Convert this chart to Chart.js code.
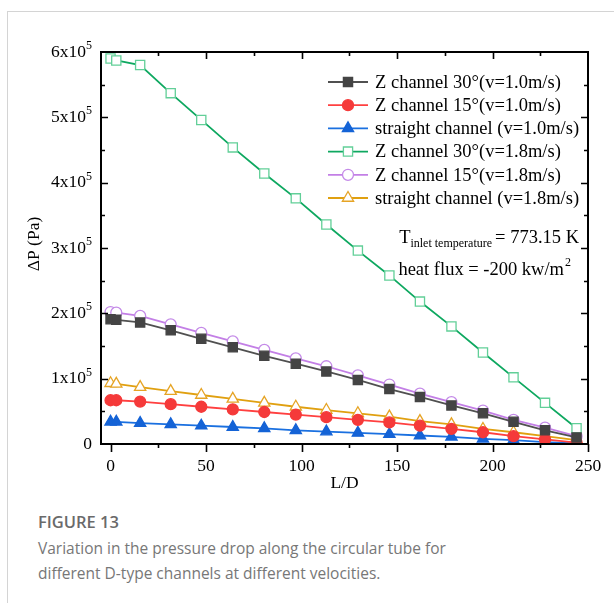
<!DOCTYPE html>
<html>
<head>
<meta charset="utf-8">
<script src="https://cdn.jsdelivr.net/npm/chart.js@4/dist/chart.umd.min.js"></script>
<style>
  html, body { margin: 0; padding: 0; background: #fff; }
  #wrap { position: relative; width: 614px; height: 603px; overflow: hidden; }
  #frame { position: absolute; left: 7px; top: 11px; right: -2px; bottom: -2px; border-left: 1px solid #d4d4d4; border-top: 1px solid #d4d4d4; }
  #chart { position: absolute; left: 0; top: 0; }
  .cap { position: absolute; left: 38px; font-family: "Open Sans", "Noto Sans", sans-serif; color: #777; }
  #figno { top: 510px; font-size: 16.5px; font-weight: 600; color: #6a6a6a; }
  #figtxt { top: 536px; font-size: 15.5px; line-height: 25px; }
</style>
</head>
<body>
<div id="wrap">
  <div id="frame"></div>
  <canvas id="chart" width="614" height="500"></canvas>
  <div class="cap" id="figno">FIGURE 13</div>
  <div class="cap" id="figtxt">Variation in the pressure drop along the circular tube for<br>different D-type channels at different velocities.</div>
</div>
<script>
// L/D positions of the sampled points
const ld = [0, 3, 15.5, 31.5, 47.5, 64, 80.5, 97, 113, 129.5, 146, 162, 178.5, 195, 211, 227.5, 244];

// pressure drop, in units of 1e5 Pa
const z30_v10 = [1.91, 1.90, 1.86, 1.74, 1.61, 1.48, 1.35, 1.23, 1.11, 0.98, 0.84, 0.72, 0.59, 0.47, 0.34, 0.21, 0.10];
const z15_v10 = [0.67, 0.67, 0.65, 0.61, 0.57, 0.53, 0.49, 0.45, 0.41, 0.37, 0.33, 0.28, 0.23, 0.18, 0.12, 0.07, 0.02];
const str_v10 = [0.34, 0.34, 0.32, 0.30, 0.28, 0.26, 0.24, 0.21, 0.19, 0.17, 0.15, 0.13, 0.11, 0.08, 0.06, 0.03, 0.01];
const z30_v18 = [5.90, 5.87, 5.80, 5.37, 4.96, 4.54, 4.14, 3.76, 3.36, 2.96, 2.58, 2.18, 1.80, 1.40, 1.02, 0.63, 0.24];
const z15_v18 = [2.02, 2.01, 1.96, 1.83, 1.70, 1.57, 1.44, 1.31, 1.19, 1.05, 0.91, 0.77, 0.64, 0.51, 0.37, 0.25, 0.12];
const str_v18 = [0.93, 0.92, 0.87, 0.81, 0.75, 0.69, 0.63, 0.57, 0.52, 0.47, 0.42, 0.35, 0.30, 0.23, 0.18, 0.12, 0.06];

const seriesNames = [
  'Z channel 30°(v=1.0m/s)',
  'Z channel 15°(v=1.0m/s)',
  'straight channel (v=1.0m/s)',
  'Z channel 30°(v=1.8m/s)',
  'Z channel 15°(v=1.8m/s)',
  'straight channel (v=1.8m/s)'
];

const xTicks = [0, 50, 100, 150, 200, 250];
const yTicks = [0, 1, 2, 3, 4, 5, 6];

const serif = '"Liberation Serif", "Times New Roman", serif';

function pts(vals) {
  return vals.map((v, i) => ({ x: ld[i], y: v * 1e5 }));
}

// line colour, marker fill, marker border, marker style, radius
const styles = [
  { line: '#505050', fill: '#444444', border: '#444444', shape: 'rect', r: 6.5 },
  { line: '#ff4040', fill: '#f53a3a', border: '#f53a3a', shape: 'circle', r: 5.5 },
  { line: '#1a70e0', fill: '#1463d6', border: '#1463d6', shape: 'triangle', r: 6.5 },
  { line: '#0ea860', fill: '#ffffff', border: '#62cf98', shape: 'rect', r: 6.5 },
  { line: '#c37fe6', fill: '#ffffff', border: '#c48ae8', shape: 'circle', r: 5.5 },
  { line: '#e0a010', fill: '#ffffff', border: '#e6a425', shape: 'triangle', r: 6.5 }
];
const allVals = [z30_v10, z15_v10, str_v10, z30_v18, z15_v18, str_v18];

const datasets = allVals.map((vals, i) => ({
  label: seriesNames[i],
  data: pts(vals),
  showLine: true,
  borderColor: styles[i].line,
  borderWidth: 1.8,
  pointStyle: styles[i].shape,
  pointRadius: styles[i].r,
  pointBackgroundColor: styles[i].fill,
  pointBorderColor: styles[i].border,
  pointBorderWidth: 1.3,
  tension: 0
}));

const axesPlugin = {
  id: 'axesPlugin',
  afterDraw(chart) {
    const ctx = chart.ctx;
    const a = chart.chartArea;
    const xs = chart.scales.x, ys = chart.scales.y;
    ctx.save();
    ctx.strokeStyle = '#000';
    ctx.lineWidth = 2;
    ctx.strokeRect(a.left, a.top, a.right - a.left, a.bottom - a.top);

    ctx.lineWidth = 1.6;
    ctx.beginPath();
    // x ticks: bottom outward, top inward
    for (let v = 0; v <= 250; v += 25) {
      const px = Math.round(xs.getPixelForValue(v)) + 0.5;
      const major = v % 50 === 0;
      ctx.moveTo(px, a.bottom);
      ctx.lineTo(px, a.bottom + (major ? 8 : 4));
      if (v > 0 && v < 250) {
        ctx.moveTo(px, a.top);
        ctx.lineTo(px, a.top + (major ? 7 : 4));
      }
    }
    // y ticks: inward on both sides
    for (let v = 0; v <= 6; v += 0.5) {
      const py = Math.round(ys.getPixelForValue(v * 1e5)) + 0.5;
      const major = Number.isInteger(v);
      if (v > 0 && v < 6) {
        ctx.moveTo(a.left, py);
        ctx.lineTo(a.left + (major ? 7 : 4), py);
        ctx.moveTo(a.right, py);
        ctx.lineTo(a.right - (major ? 7 : 4), py);
      }
    }
    ctx.stroke();

    ctx.fillStyle = '#000';
    ctx.font = '17.5px ' + serif;
    ctx.textAlign = 'center';
    ctx.textBaseline = 'middle';
    xTicks.forEach(v => {
      ctx.fillText(String(v), xs.getPixelForValue(v), a.bottom + 22);
    });
    ctx.fillText('L/D', (a.left + a.right) / 2, a.bottom + 39);

    // y tick labels with superscript exponents
    ctx.textAlign = 'right';
    yTicks.forEach(v => {
      const py = ys.getPixelForValue(v * 1e5);
      const rx = a.left - 9;
      if (v === 0) {
        ctx.font = '17.5px ' + serif;
        ctx.fillText('0', rx, py);
      } else {
        ctx.font = '12px ' + serif;
        const ew = ctx.measureText('5').width;
        ctx.fillText('5', rx, py - 6);
        ctx.font = '17.5px ' + serif;
        ctx.fillText(v + 'x10', rx - ew, py);
      }
    });

    ctx.save();
    ctx.translate(34, (a.top + a.bottom) / 2 - 4);
    ctx.rotate(-Math.PI / 2);
    ctx.textAlign = 'center';
    ctx.font = '17.5px ' + serif;
    ctx.fillText('\u0394P (Pa)', 0, 0);
    ctx.restore();

    // legend
    const lx = 328, ly = 82, step = 23.2;
    seriesNames.forEach((name, i) => {
      const s = styles[i];
      const y = ly + i * step;
      ctx.strokeStyle = s.line;
      ctx.lineWidth = 1.8;
      ctx.beginPath();
      ctx.moveTo(lx, y);
      ctx.lineTo(lx + 40, y);
      ctx.stroke();
      ctx.fillStyle = s.fill;
      ctx.strokeStyle = s.border;
      ctx.lineWidth = 1.3;
      Chart.helpers.drawPoint(ctx, { pointStyle: s.shape, radius: s.r, borderWidth: 1.3, rotation: 0 }, lx + 20, y);
      ctx.fillStyle = '#000';
      ctx.font = '18.5px ' + serif;
      ctx.textAlign = 'left';
      ctx.fillText(name, lx + 47, y + 1);
    });

    // conditions annotation, right-aligned to the legend edge
    ctx.fillStyle = '#000';
    ctx.textAlign = 'left';
    const big = '18.5px ' + serif, small = '12px ' + serif;
    ctx.font = big;
    const wT = ctx.measureText('T').width, wEq = ctx.measureText('= 773.15 K').width;
    ctx.font = small;
    const wSub = ctx.measureText('inlet temperature').width;
    let tx = 579 - (wT + wSub + 3 + wEq);
    const ty = 238;
    ctx.font = big;
    ctx.fillText('T', tx, ty);
    tx += wT;
    ctx.font = small;
    ctx.fillText('inlet temperature', tx, ty + 6);
    tx += wSub + 3;
    ctx.font = big;
    ctx.fillText('= 773.15 K', tx, ty);

    const hf = 'heat flux = -200 kw/m';
    const hw = ctx.measureText(hf).width;
    ctx.font = small;
    const w2 = ctx.measureText('2').width;
    const hx = 571 - (hw + 1 + w2);
    ctx.font = big;
    ctx.fillText(hf, hx, 270);
    ctx.font = small;
    ctx.fillText('2', hx + hw + 1, 263);
    ctx.restore();
  }
};

new Chart(document.getElementById('chart'), {
  type: 'scatter',
  data: { datasets: datasets },
  options: {
    responsive: false,
    animation: false,
    layout: { padding: { left: 101, right: 26, top: 52, bottom: 56 } },
    plugins: { legend: { display: false }, tooltip: { enabled: false } },
    scales: {
      x: { type: 'linear', min: -5, max: 250, display: false },
      y: { type: 'linear', min: 0, max: 6e5, display: false }
    }
  },
  plugins: [axesPlugin]
});
</script>
</body>
</html>
